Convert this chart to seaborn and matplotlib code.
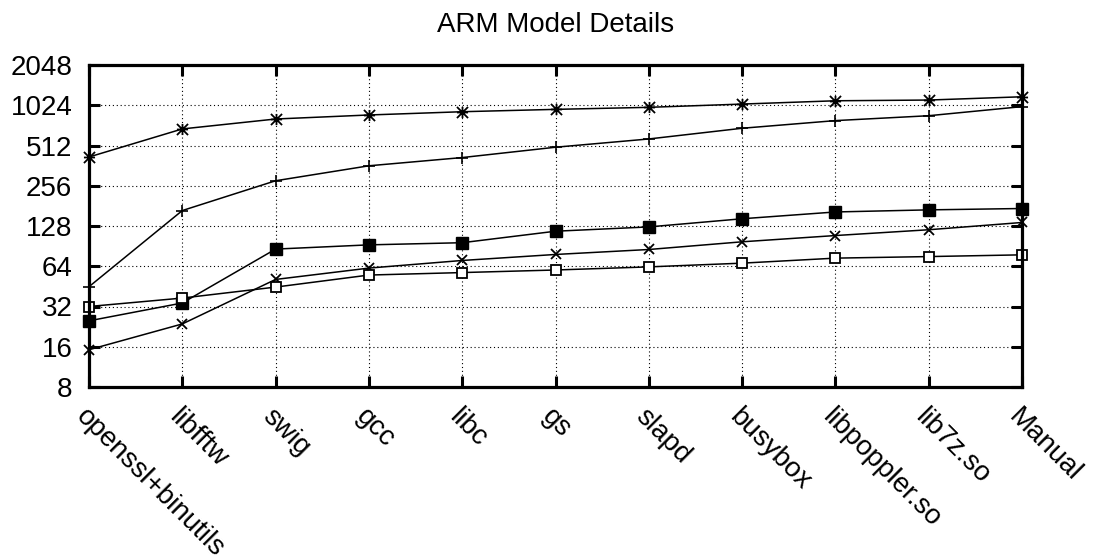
import numpy as np
import pandas as pd
import matplotlib
matplotlib.use("Agg")
import matplotlib.pyplot as plt
from matplotlib.path import Path
import seaborn as sns

categories = ["openssl+binutils", "libfftw", "swig", "gcc", "libc", "gs",
              "slapd", "busybox", "libpoppler.so", "lib7z.so", "Manual"]
series_star = [420, 681, 808, 866, 916, 954, 988, 1045, 1106, 1120, 1185]
series_plus = [45, 167, 279, 361, 416, 497, 573, 689, 786, 855, 1000]
series_fsq = [25, 34, 86, 92.5, 96, 117, 126, 145, 163, 169, 173]
series_x = [15.2, 23.7, 51, 62, 70.7, 78.4, 85.4, 97.5, 108.6, 120, 136]
series_osq = [32, 37, 44.7, 55, 57.4, 60, 63.3, 67.5, 73.6, 75.6, 77.9]
yticks = [8, 16, 32, 64, 128, 256, 512, 1024, 2048]

sns.set_theme(style="white")
plt.rcParams["font.family"] = ["Liberation Sans", "DejaVu Sans"]
plt.rcParams["xtick.labelsize"] = 20
plt.rcParams["ytick.labelsize"] = 20

fig = plt.figure(figsize=(10.99, 5.60), dpi=100)
ax = fig.add_axes([89/1099, 1-387/560, (1022-89)/1099, (387-65)/560])

# asterisk marker: plus + cross
star_path = Path(
    [(-1, 0), (1, 0), (0, -1), (0, 1), (-1, -1), (1, 1), (-1, 1), (1, -1)],
    [Path.MOVETO, Path.LINETO, Path.MOVETO, Path.LINETO,
     Path.MOVETO, Path.LINETO, Path.MOVETO, Path.LINETO])

x = np.arange(len(categories))
specs = [
    (series_star, dict(marker=star_path, markersize=8, markerfacecolor="none", markeredgewidth=1.3)),
    (series_plus, dict(marker="+", markersize=9, markeredgewidth=1.2)),
    (series_fsq, dict(marker="s", markersize=8, markerfacecolor="black", markeredgewidth=1.0)),
    (series_x, dict(marker="x", markersize=7.5, markeredgewidth=1.3)),
    (series_osq, dict(marker="s", markersize=7.5, markerfacecolor="white", markeredgewidth=1.3)),
]
for vals, kw in specs:
    df = pd.DataFrame({"x": x, "y": vals})
    sns.lineplot(data=df, x="x", y="y", ax=ax, color="black", linewidth=1.1,
                 markeredgecolor="black", clip_on=False, zorder=3, **kw)

ax.set_yscale("log", base=2)
ax.set_ylim(8, 2048)
ax.set_xlim(0, len(categories) - 1)
ax.yaxis.set_minor_locator(matplotlib.ticker.NullLocator())
ax.tick_params(axis="both", which="major", direction="in", length=8, width=2.2,
               colors="black", top=True, right=True, bottom=True, left=True)
ax.tick_params(axis="y", pad=12)
ax.tick_params(axis="x", pad=12)
ax.set_yticks(yticks)
ax.set_yticklabels([str(v) for v in yticks], fontsize=20)
ax.set_xticks(x)
ax.set_xticklabels(categories, rotation=-45, ha="left", va="top",
                   rotation_mode="anchor", fontsize=20)
ax.set_xlabel("")
ax.set_ylabel("")

ax.grid(True, which="major", color="black", linestyle=(0, (1, 2.5)), linewidth=0.8)
for s in ax.spines.values():
    s.set_visible(True)
    s.set_color("black")
    s.set_linewidth(2.3)
    s.set_zorder(4)

ax.set_title("ARM Model Details", fontsize=20, pad=24, color="black")

fig.savefig("out.png", dpi=100)
